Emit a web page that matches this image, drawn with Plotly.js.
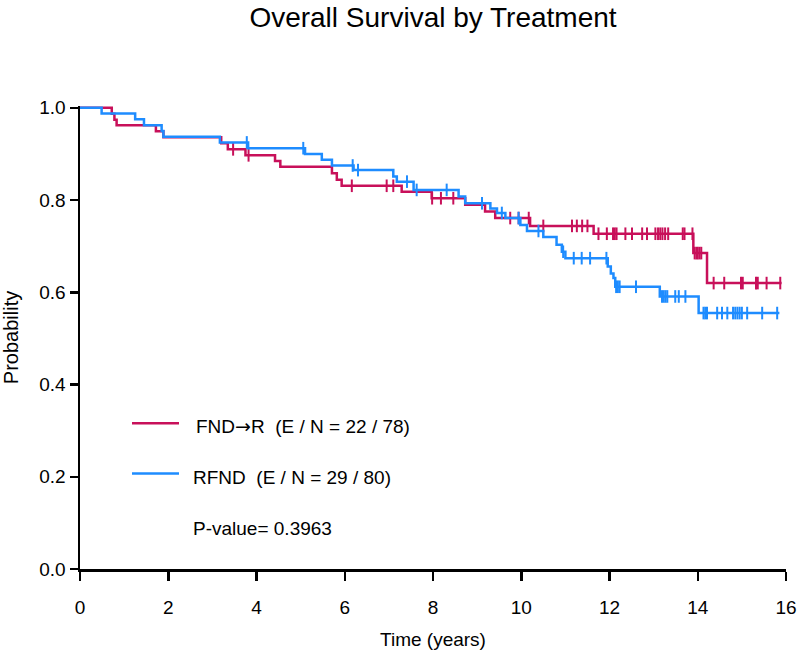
<!DOCTYPE html>
<html>
<head>
<meta charset="utf-8">
<script src="https://cdn.plot.ly/plotly-3.0.1.min.js"></script>
<style>html,body{margin:0;padding:0;background:#fff;}#chart{width:800px;height:658px;}</style>
</head>
<body>
<div id="chart"></div>
<script>
// ---- data ----
const seriesNames = ["FND\u2192R", "RFND"];
const seriesLegend = ["FND<span style=\"font-family:'DejaVu Sans'\">\u2192</span>R  (E / N = 22 / 78)", "RFND  (E / N = 29 / 80)"];
const pValueText = "P-value= 0.3963";

// FND→R: event times (years) and Kaplan–Meier survival after each event
const redEventTimes = [0.72, 0.78, 0.83, 1.72, 1.89, 3.2, 3.35, 3.75, 4.42, 4.54, 5.71, 5.82, 5.93, 7.29, 7.97, 8.73, 9.18, 9.41, 10.2, 11.64, 13.9, 14.21];
const redEventSurv  = [0.987, 0.974, 0.962, 0.949, 0.936, 0.923, 0.910, 0.897, 0.885, 0.872, 0.858, 0.844, 0.831, 0.818, 0.804, 0.790, 0.775, 0.761, 0.744, 0.727, 0.685, 0.620];
const redCensorTimes = [3.47, 3.82, 6.16, 6.95, 7.1, 7.98, 8.18, 8.46, 9.75, 9.94, 10.17, 10.5, 11.15, 11.26, 11.38, 11.5, 11.75, 11.94, 12.08, 12.12, 12.16, 12.36, 12.51, 12.74, 12.85, 13.04, 13.1, 13.15, 13.2, 13.26, 13.33, 13.66, 13.7, 13.88, 13.93, 13.97, 14.0, 14.04, 14.08, 14.36, 14.6, 14.98, 15.02, 15.32, 15.36, 15.56, 15.87];
const redEnd = 15.9;

// RFND
const blueEventTimes = [0.49, 1.25, 1.45, 1.85, 1.89, 3.17, 3.81, 5.1, 5.48, 5.71, 6.2, 7.1, 7.18, 7.56, 8.58, 8.73, 9.3, 9.45, 9.64, 9.98, 10.13, 10.5, 10.8, 10.92, 11.0, 11.96, 12.03, 12.09, 12.13, 13.14, 14.02];
const blueEventSurv  = [0.9875, 0.975, 0.9625, 0.95, 0.9375, 0.925, 0.9125, 0.900, 0.8875, 0.875, 0.865, 0.851, 0.840, 0.822, 0.808, 0.793, 0.782, 0.772, 0.761, 0.746, 0.733, 0.720, 0.703, 0.688, 0.674, 0.656, 0.641, 0.631, 0.612, 0.591, 0.555];
const blueCensorTimes = [3.78, 5.06, 6.18, 6.3, 7.41, 7.63, 8.31, 9.11, 9.56, 9.94, 10.39, 10.95, 11.19, 11.37, 11.56, 11.93, 12.15, 12.19, 12.23, 12.6, 13.19, 13.23, 13.27, 13.31, 13.49, 13.57, 13.72, 14.13, 14.17, 14.21, 14.44, 14.55, 14.67, 14.8, 14.85, 14.9, 14.95, 15.0, 15.12, 15.46, 15.8];
const blueEnd = 15.85;

const xTicks = [0, 2, 4, 6, 8, 10, 12, 14, 16];
const yTicks = [0.0, 0.2, 0.4, 0.6, 0.8, 1.0];

// ---- helpers ----
function stepCurve(times, surv, end) {
  const x = [0].concat(times, [end]);
  const y = [1.0].concat(surv, [surv[surv.length - 1]]);
  return {x, y};
}
function survAt(times, surv, t) {
  let v = 1.0;
  for (let i = 0; i < times.length; i++) if (times[i] <= t) v = surv[i];
  return v;
}

const RED = "#C8105A";
const BLUE = "#1E8CFF";
const FONT = "Liberation Sans, Arial, sans-serif";

const rc = stepCurve(redEventTimes, redEventSurv, redEnd);
const bc = stepCurve(blueEventTimes, blueEventSurv, blueEnd);

const traces = [
  {x: rc.x, y: rc.y, mode: "lines", line: {shape: "hv", color: RED, width: 2.5}, name: seriesNames[0], showlegend: false},
  {x: redCensorTimes, y: redCensorTimes.map(t => survAt(redEventTimes, redEventSurv, t)), mode: "markers",
   marker: {symbol: "line-ns", size: 9, line: {color: RED, width: 2}}, showlegend: false, name: seriesNames[0] + " censored"},
  {x: bc.x, y: bc.y, mode: "lines", line: {shape: "hv", color: BLUE, width: 2.5}, name: seriesNames[1], showlegend: false},
  {x: blueCensorTimes, y: blueCensorTimes.map(t => survAt(blueEventTimes, blueEventSurv, t)), mode: "markers",
   marker: {symbol: "line-ns", size: 9, line: {color: BLUE, width: 2}}, showlegend: false, name: seriesNames[1] + " censored"}
];

// pixel helpers for legend placement (plot area: x 80..786, y 108..569)
const PL = 80, PR = 786, PT = 108, PB = 569;
const px = v => (v - PL) / (PR - PL);
const py = v => (PB - v) / (PB - PT);

const layout = {
  width: 800, height: 658,
  margin: {l: 80, r: 14, t: 106, b: 89, pad: 0},
  paper_bgcolor: "#fff", plot_bgcolor: "#fff",
  font: {family: FONT, color: "#000", size: 19},
  title: {text: "Overall Survival by Treatment", font: {family: FONT, size: 28, color: "#000"},
          x: 0.5, xref: "paper", y: 1 - 17 / 658, yref: "container", yanchor: "middle"},
  xaxis: {range: [0, 16], tickvals: xTicks, ticktext: xTicks.map(String), showline: true, linecolor: "#000", linewidth: 2.5,
          ticks: "outside", ticklen: 9, tickwidth: 2.5, tickcolor: "#000", showgrid: false, zeroline: false,
          tickfont: {size: 19}, ticklabelstandoff: 11,
          title: {text: "Time (years)", font: {size: 19}, standoff: 16}},
  yaxis: {range: [0, 1.004], tickvals: yTicks, ticktext: yTicks.map(v => v.toFixed(1)), showline: true, linecolor: "#000", linewidth: 2.5,
          ticks: "outside", ticklen: 8, tickwidth: 2.5, tickcolor: "#000", showgrid: false, zeroline: false,
          tickfont: {size: 19}, ticklabelstandoff: 0,
          title: {text: "Probability", font: {size: 20}, standoff: 16}},
  shapes: [
    {type: "line", xref: "paper", yref: "paper", x0: px(132), x1: px(179), y0: py(424), y1: py(424), line: {color: RED, width: 2.5}},
    {type: "line", xref: "paper", yref: "paper", x0: px(132), x1: px(179), y0: py(474), y1: py(474), line: {color: BLUE, width: 2.5}}
  ],
  annotations: [
    {text: seriesLegend[0], xref: "paper", yref: "paper", x: px(194), y: py(427), xanchor: "left", yanchor: "middle", showarrow: false, font: {size: 19}},
    {text: seriesLegend[1], xref: "paper", yref: "paper", x: px(191), y: py(478), xanchor: "left", yanchor: "middle", showarrow: false, font: {size: 19}},
    {text: pValueText, xref: "paper", yref: "paper", x: px(191), y: py(529), xanchor: "left", yanchor: "middle", showarrow: false, font: {size: 19}}
  ]
};

Plotly.newPlot("chart", traces, layout, {displayModeBar: false, staticPlot: true});
</script>
</body>
</html>
